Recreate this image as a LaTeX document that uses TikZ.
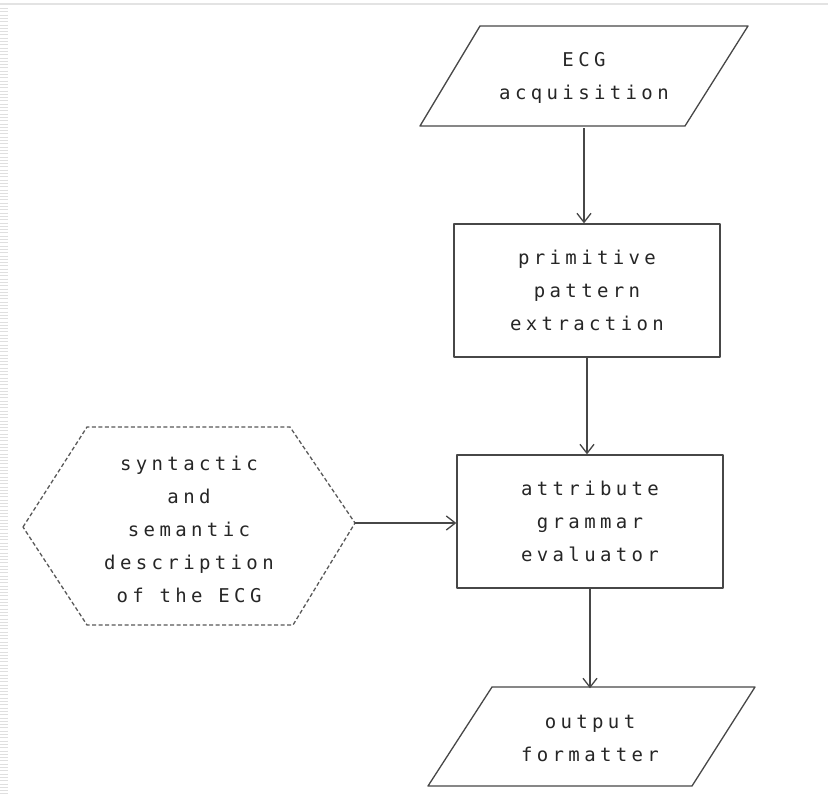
\documentclass[tikz,border=0pt]{standalone}
\usepackage{fontspec}
\newfontfamily\plotfont[LetterSpace=23]{DejaVu Sans Mono}
\usetikzlibrary{arrows.meta}
\begin{document}
\begin{tikzpicture}[x=1pt,y=-1pt,
  line/.style={draw=black!72, line width=1.3pt, line join=round},
  lbl/.style={font=\plotfont\fontsize{19}{33}\selectfont, align=center, text=black!85, inner sep=0pt},
  procbox/.style={line, rectangle, inner sep=0pt, font=\plotfont\fontsize{19}{33}\selectfont, align=center, text=black!85},
  dashline/.style={draw=black!65, line width=1.3pt, dash pattern=on 4pt off 2.5pt},
  arr/.style={line, -{Straight Barb[length=9pt,width=14pt,line width=1.3pt]}}
]
\useasboundingbox (0,0) rectangle (828,796);
\fill[white] (0,0) rectangle (828,796);
% scan artefacts
\draw[gray!22, line width=2pt] (0,4) -- (828,4);
\draw[gray!25, line width=8pt, dash pattern=on 1pt off 2.3pt] (4,8) -- (4,796);

% ECG acquisition (parallelogram)
\draw[line] (420,126) -- (480,26) -- (748,26) -- (685,126) -- cycle;
\node[lbl, minimum width=205pt, minimum height=100pt] (ecg) at (584,78) {ECG\\acquisition};

% primitive pattern extraction
\node[procbox, minimum width=266pt, minimum height=133pt] (prim) at (587,290.5) {primitive\\pattern\\extraction};

% attribute grammar evaluator
\node[procbox, minimum width=266pt, minimum height=133pt] (attr) at (590,521.5) {attribute\\grammar\\evaluator};

% hexagon
\draw[dashline] (23,527) -- (87,427) -- (290,427) -- (355,523) -- (293,625) -- (87,625) -- cycle;
\node[lbl, minimum width=200pt, minimum height=190pt] (desc) at (189,529) {syntactic\\and\\semantic\\description\\of the ECG};
\coordinate (hexR) at (355,523);

% output formatter (parallelogram)
\draw[line] (428,786) -- (492,687) -- (755,687) -- (692,786) -- cycle;
\node[lbl, minimum width=200pt, minimum height=99pt] (out) at (590,738) {output\\formatter};

% connectors
\draw[arr] (ecg.south) -- (ecg.south |- prim.north);
\draw[arr] (prim.south) -- (prim.south |- attr.north);
\draw[arr] (hexR) -- (hexR -| attr.west);
\draw[arr] (attr.south) -- (attr.south |- out.north);
\end{tikzpicture}
\end{document}
